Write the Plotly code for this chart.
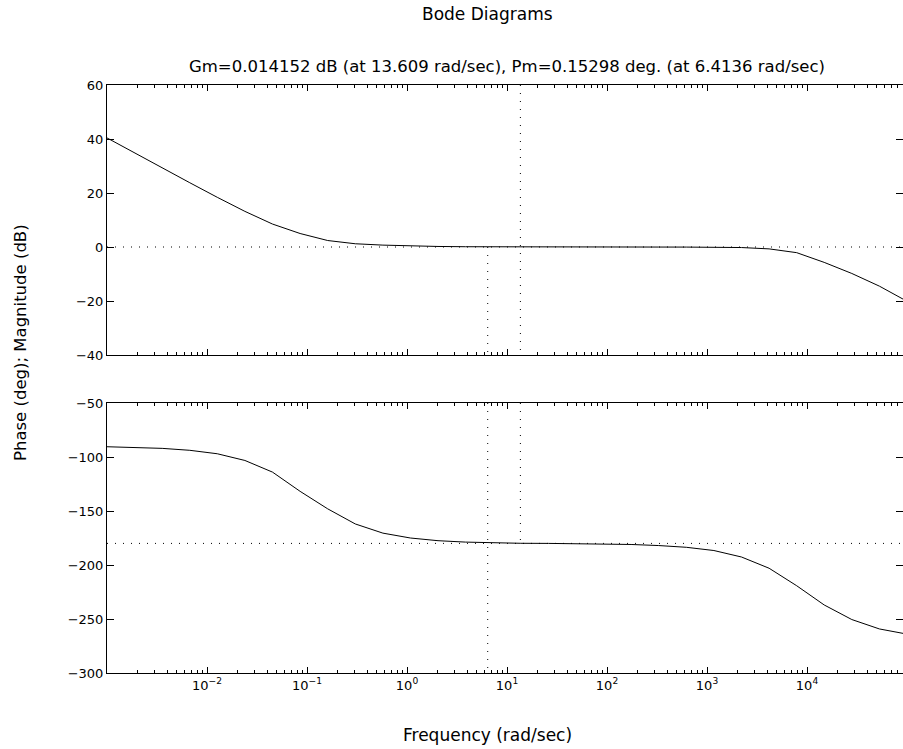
import plotly.graph_objects as go

# ---------------- data ----------------
log_freq = [-3.000, -2.724, -2.448, -2.172, -1.897, -1.621, -1.345, -1.069,
            -0.793, -0.517, -0.241, 0.034, 0.310, 0.586, 0.862, 1.138,
            1.414, 1.690, 1.966, 2.241, 2.517, 2.793, 3.069, 3.345,
            3.621, 3.897, 4.172, 4.448, 4.724, 5.000]
freq = [10 ** v for v in log_freq]

magnitude_db = [40.4, 34.8, 29.3, 23.8, 18.4, 13.2, 8.5, 5.0,
                2.4, 1.2, 0.7, 0.4, 0.2, 0.1, 0.05, 0.02,
                0.0, 0.0, 0.0, 0.0, -0.02, -0.03, -0.06, -0.2,
                -0.7, -2.1, -5.7, -9.8, -14.5, -20.1]

phase_deg = [-90.5, -91.0, -92.0, -93.8, -97.0, -103.2, -114.0, -131.8,
             -148.0, -162.0, -170.5, -175.0, -177.5, -178.8, -179.5, -179.9,
             -180.0, -180.2, -180.5, -181.0, -182.0, -183.6, -186.6, -192.6,
             -203.0, -219.2, -237.0, -250.5, -259.2, -264.0]

gm_db = 0.014152
gm_freq = 13.609
pm_deg = 0.15298
pm_freq = 6.4136

mag_ticks = [-40, -20, 0, 20, 40, 60]
phase_ticks = [-300, -250, -200, -150, -100, -50]
x_tickvals = [1e-2, 1e-1, 1e0, 1e1, 1e2, 1e3, 1e4]
x_ticktext = ["10<sup>\u22122</sup>", "10<sup>\u22121</sup>", "10<sup>0</sup>",
              "10<sup>1</sup>", "10<sup>2</sup>", "10<sup>3</sup>", "10<sup>4</sup>"]

title_text = "Bode Diagrams"
subtitle_text = ("Gm=0.014152 dB (at 13.609 rad/sec), "
                 "Pm=0.15298 deg. (at 6.4136 rad/sec)")
xlabel_text = "Frequency (rad/sec)"
ylabel_text = "Phase (deg); Magnitude (dB)"

# ---------------- figure ----------------
W, H = 903, 749
ML, MR, MT, MB = 107, 0, 85, 76
plot_h = H - MT - MB          # 588
panel_h = 270
FONT = "DejaVu Sans"

fig = go.Figure()

line_style = dict(color="black", width=1)
dot_style = dict(color="black", width=1, dash="1px,7px")

x_lo, x_hi = min(freq), max(freq)

# magnitude panel
fig.add_trace(go.Scatter(x=[x_lo, x_hi], y=[0, 0], mode="lines", line=dot_style,
                         xaxis="x", yaxis="y", hoverinfo="skip"))
fig.add_trace(go.Scatter(x=[gm_freq, gm_freq], y=[mag_ticks[-1], mag_ticks[0]], mode="lines",
                         line=dot_style, xaxis="x", yaxis="y", hoverinfo="skip"))
fig.add_trace(go.Scatter(x=[pm_freq, pm_freq], y=[0, mag_ticks[0]], mode="lines",
                         line=dot_style, xaxis="x", yaxis="y", hoverinfo="skip"))
fig.add_trace(go.Scatter(x=freq, y=magnitude_db, mode="lines", line=line_style,
                         xaxis="x", yaxis="y"))

# phase panel
fig.add_trace(go.Scatter(x=[x_lo, x_hi], y=[-180, -180], mode="lines", line=dot_style,
                         xaxis="x2", yaxis="y2", hoverinfo="skip"))
fig.add_trace(go.Scatter(x=[gm_freq, gm_freq], y=[phase_ticks[-1], -180], mode="lines",
                         line=dot_style, xaxis="x2", yaxis="y2", hoverinfo="skip"))
fig.add_trace(go.Scatter(x=[pm_freq, pm_freq], y=[phase_ticks[-1], phase_ticks[0]], mode="lines",
                         line=dot_style, xaxis="x2", yaxis="y2", hoverinfo="skip"))
fig.add_trace(go.Scatter(x=freq, y=phase_deg, mode="lines", line=line_style,
                         xaxis="x2", yaxis="y2"))

x_range = [-3, -3 + (W - ML - MR) / 100.0]
minor_vals = [m * 10 ** k for k in range(-3, 5) for m in range(2, 10)]

xcommon = dict(type="log", range=x_range, showgrid=False, zeroline=False,
               showline=True, linecolor="black", linewidth=1, mirror="ticks",
               ticks="inside", ticklen=6, tickwidth=1, tickcolor="black",
               tickmode="array", tickvals=x_tickvals,
               minor=dict(tickmode="array", tickvals=minor_vals, ticks="inside",
                          ticklen=3, tickwidth=1, tickcolor="black", showgrid=False),
               tickfont=dict(family=FONT, size=13, color="black"))
ycommon = dict(showgrid=False, zeroline=False, showline=True, linecolor="black",
               linewidth=1, mirror="ticks", ticks="inside", ticklen=7, tickwidth=1,
               tickcolor="black", tickmode="array",
               tickfont=dict(family=FONT, size=13, color="black"))

top_dom = [1 - panel_h / plot_h, 1]
bot_dom = [0, panel_h / plot_h]

fig.update_layout(
    width=W, height=H,
    margin=dict(l=ML, r=MR, t=MT, b=MB, pad=0),
    paper_bgcolor="white", plot_bgcolor="white",
    showlegend=False,
    font=dict(family=FONT, color="black", size=13),
    xaxis=dict(xcommon, domain=[0, 1], anchor="y", showticklabels=False),
    yaxis=dict(ycommon, domain=top_dom, anchor="x", range=[-40, 60],
               tickvals=mag_ticks),
    xaxis2=dict(xcommon, domain=[0, 1], anchor="y2", showticklabels=True,
                ticktext=x_ticktext),
    yaxis2=dict(ycommon, domain=bot_dom, anchor="x2", range=[-300, -50],
                tickvals=phase_ticks),
)

def px_x(px):
    return (px - ML) / (W - ML - MR)

def px_y(py):
    return (H - MB - py) / plot_h

annos = [
    dict(text=title_text, x=px_x(487.5), y=px_y(14), size=17),
    dict(text=subtitle_text, x=px_x(507), y=px_y(66), size=16.5),
    dict(text=xlabel_text, x=px_x(487.5), y=px_y(735), size=17),
    dict(text=ylabel_text, x=px_x(20), y=px_y(343), size=16.5, angle=-90),
]
for a in annos:
    fig.add_annotation(xref="paper", yref="paper", showarrow=False,
                       xanchor="center", yanchor="middle",
                       font=dict(family=FONT, color="black", size=a["size"]),
                       text=a["text"], x=a["x"], y=a["y"],
                       textangle=a.get("angle", 0))

fig.write_html("out.html",
               config={"displayModeBar": False},
               post_script="document.body.style.margin='0';"
                           "document.body.style.overflow='hidden';")
